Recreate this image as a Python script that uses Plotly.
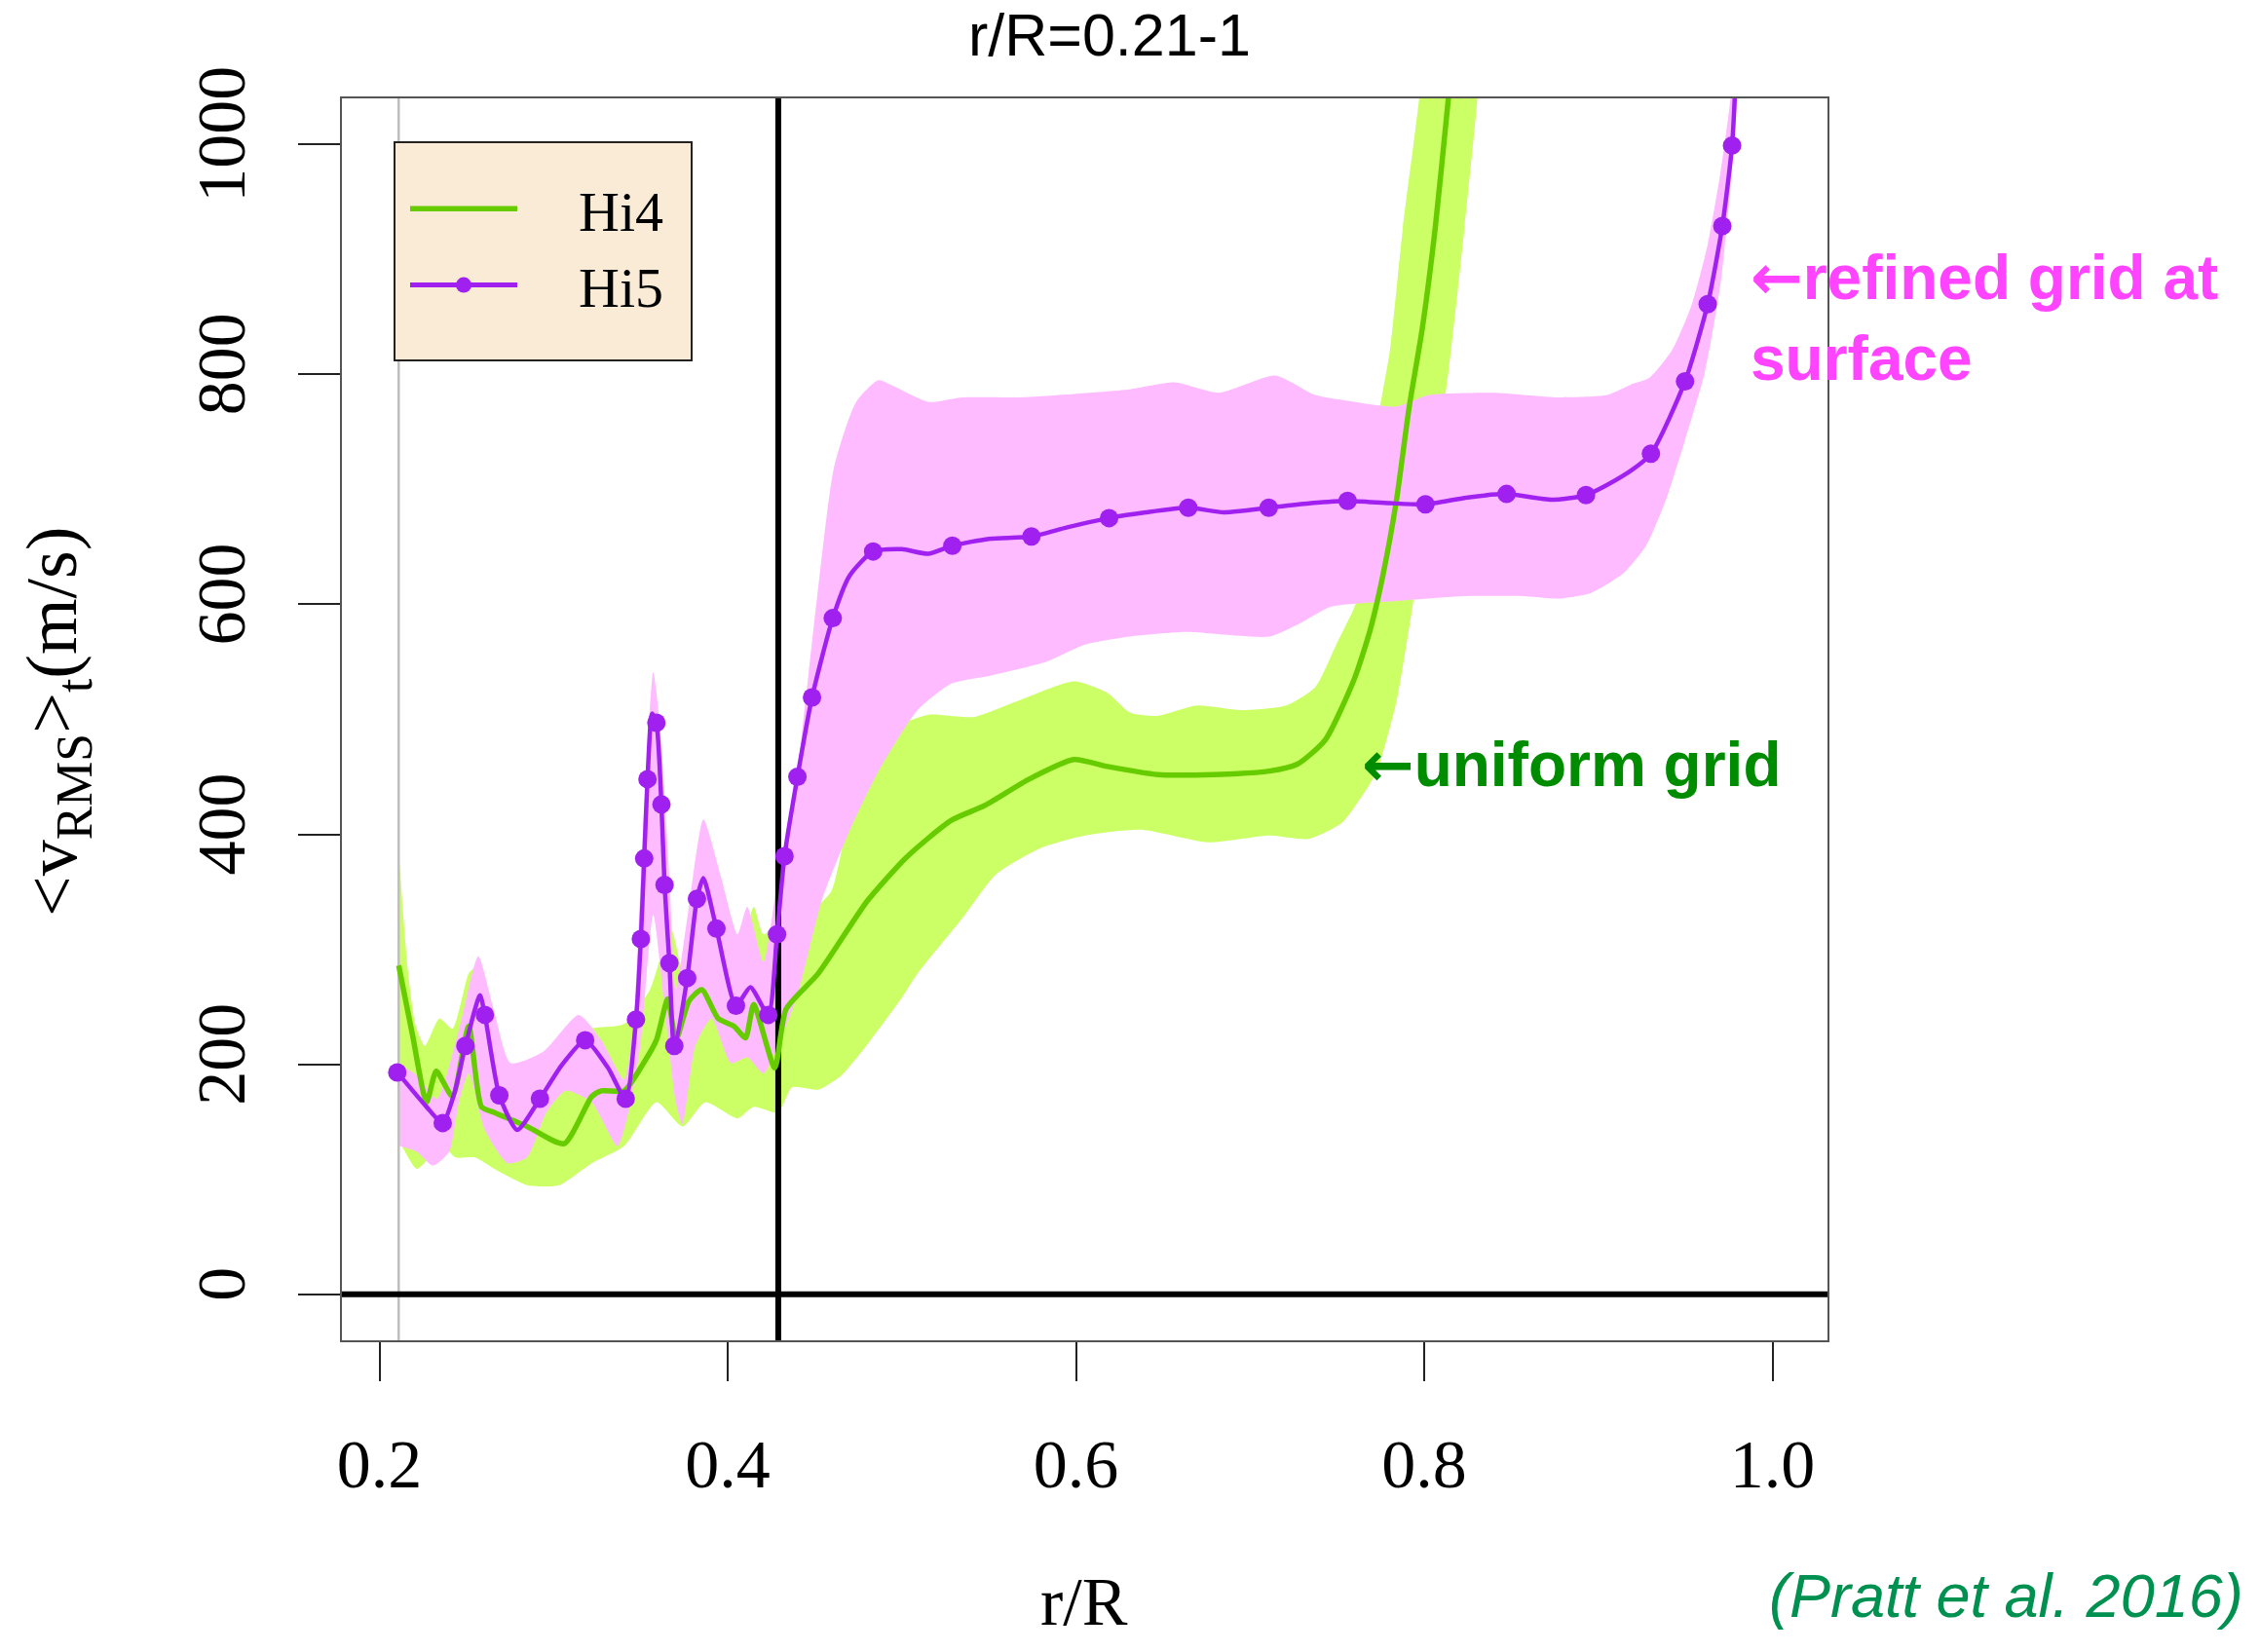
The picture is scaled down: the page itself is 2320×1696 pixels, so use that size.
import plotly.graph_objects as go

# ---------------- data ----------------
hi4_r = [0.211, 0.219, 0.227, 0.2326, 0.2419, 0.2512, 0.2586, 0.266, 0.2847, 0.306,
         0.3219, 0.3274, 0.3405, 0.3516, 0.359, 0.3656, 0.3702, 0.3777, 0.3851, 0.3944,
         0.4037, 0.4102, 0.4149, 0.427, 0.4335, 0.452, 0.4801, 0.5026, 0.5282, 0.5475,
         0.5731, 0.5988, 0.618, 0.6469, 0.679, 0.711, 0.7271, 0.7431, 0.7598, 0.769,
         0.7765, 0.784, 0.7914, 0.7989, 0.8063, 0.8138, 0.818]
hi4_v = [286, 225, 167, 194, 172, 233, 163, 158, 146, 131,
         172, 177, 177, 201, 221, 257, 221, 255, 265, 240,
         233, 223, 252, 197, 248, 279, 342, 380, 412, 425,
         448, 465, 459, 452, 452, 455, 461, 482, 535, 578,
         627, 690, 772, 840, 927, 1039, 1100]

hi4_up_r = [0.2115, 0.2158, 0.2205, 0.226, 0.2344, 0.2419, 0.2512, 0.2549, 0.2605, 0.2698,
            0.2884, 0.3033, 0.3219, 0.3405, 0.3553, 0.3674, 0.374, 0.3851, 0.3963, 0.4056,
            0.4149, 0.4205, 0.4288, 0.445, 0.4593, 0.4673, 0.4785, 0.4962, 0.5154, 0.5411,
            0.5667, 0.5988, 0.618, 0.6309, 0.6469, 0.6694, 0.695, 0.7207, 0.7374, 0.7495,
            0.7592, 0.7654, 0.7737, 0.7803, 0.7877, 0.797, 0.80]
hi4_up_v = [376, 289, 235, 216, 240, 231, 279, 284, 225, 201,
            197, 216, 231, 235, 265, 318, 284, 313, 284, 289,
            337, 313, 323, 330, 350, 400, 465, 493, 504, 502,
            516, 533, 523, 506, 503, 512, 508, 512, 528, 565,
            595, 620, 762, 821, 927, 1039, 1100]

hi4_lo_r = [0.2115, 0.2214, 0.2288, 0.2363, 0.2437, 0.2549, 0.266, 0.2847, 0.3033, 0.3219,
            0.3405, 0.359, 0.374, 0.387, 0.4056, 0.4149, 0.4288, 0.437, 0.452, 0.465,
            0.479, 0.50, 0.509, 0.5347, 0.5539, 0.5796, 0.6052, 0.6373, 0.6758, 0.7111,
            0.7335, 0.7527, 0.765, 0.7728, 0.784, 0.7933, 0.8026, 0.8138, 0.8231, 0.8305, 0.833]
hi4_lo_v = [133, 109, 119, 129, 119, 119, 109, 95, 95, 114,
            129, 167, 146, 167, 153, 163, 158, 180, 178, 190,
            215, 258, 279, 327, 365, 388, 399, 404, 393, 399,
            396, 410, 435, 455, 515, 598, 685, 801, 927, 1039, 1100]

hi5_r = [0.2102, 0.227, 0.2363, 0.243, 0.2493, 0.2577, 0.2605, 0.2688, 0.2791, 0.2921,
         0.305, 0.3181, 0.3312, 0.3414, 0.3473, 0.3501, 0.352, 0.3539, 0.3565, 0.359,
         0.3619, 0.3637, 0.3665, 0.3693, 0.3767, 0.3823, 0.386, 0.3935, 0.4047, 0.413,
         0.4233, 0.4283, 0.4326, 0.44, 0.4484, 0.4603, 0.47, 0.4835, 0.50, 0.515,
         0.529, 0.55, 0.5744, 0.595, 0.619, 0.64, 0.6645, 0.685, 0.7107, 0.735,
         0.756, 0.78, 0.8007, 0.825, 0.8473, 0.873, 0.8929, 0.9144, 0.9302, 0.9498,
         0.9628, 0.9712, 0.9768, 0.9795]
hi5_v = [193, 163, 149, 175, 216, 260, 243, 173, 143, 170,
         200, 221, 197, 170, 239, 309, 379, 448, 505, 497,
         426, 356, 288, 213, 275, 344, 362, 318, 251, 267,
         243, 313, 381, 450, 519, 588, 625, 646, 648, 644,
         651, 657, 659, 667, 675, 680, 684, 680, 684, 688,
         690, 688, 687, 693, 696, 691, 695, 712, 731, 794,
         861, 929, 999, 1080]

hi5_pts_r = [0.2102, 0.2363, 0.2493, 0.2605, 0.2688, 0.2921, 0.3181, 0.3414, 0.3473, 0.3501,
             0.352, 0.3539, 0.359, 0.3619, 0.3637, 0.3665, 0.3693, 0.3767, 0.3823, 0.3935,
             0.4047, 0.4233, 0.4283, 0.4326, 0.44, 0.4484, 0.4603, 0.4835, 0.529, 0.5744,
             0.619, 0.6645, 0.7107, 0.756, 0.8007, 0.8473, 0.8929, 0.9302, 0.9498, 0.9628,
             0.9712, 0.9768]
hi5_pts_v = [193, 149, 216, 243, 173, 170, 221, 170, 239, 309,
             379, 448, 497, 426, 356, 288, 216, 275, 344, 318,
             251, 243, 313, 381, 450, 519, 588, 646, 651, 659,
             675, 684, 684, 690, 687, 696, 695, 731, 794, 861,
             929, 999]

hi5_up_r = [0.2115, 0.222, 0.233, 0.2456, 0.2567, 0.266, 0.2753, 0.294, 0.3144, 0.3274,
            0.3405, 0.346, 0.3516, 0.3572, 0.3609, 0.3665, 0.3702, 0.3777, 0.386, 0.3963,
            0.4056, 0.4112, 0.4205, 0.4288, 0.4385, 0.4513, 0.461, 0.4737, 0.4866, 0.4962,
            0.5154, 0.5347, 0.5667, 0.5988, 0.6309, 0.6565, 0.6822, 0.7143, 0.7374, 0.756,
            0.784, 0.8026, 0.8399, 0.877, 0.905, 0.92, 0.9293, 0.9423, 0.9535, 0.9628,
            0.9702, 0.9758, 0.978]
hi5_up_v = [200, 190, 170, 230, 294, 245, 201, 211, 243, 221,
            187, 240, 410, 541, 497, 362, 265, 337, 413, 362,
            313, 337, 289, 362, 437, 606, 719, 776, 795, 789,
            776, 780, 780, 783, 787, 793, 784, 799, 782, 777,
            772, 782, 784, 780, 782, 792, 797, 821, 860, 913,
            976, 1039, 1100]

hi5_lo_r = [0.2115, 0.2214, 0.2307, 0.24, 0.2456, 0.2512, 0.2605, 0.2735, 0.2847, 0.2958,
            0.307, 0.3219, 0.3367, 0.3442, 0.3498, 0.3572, 0.3647, 0.3702, 0.374, 0.3814,
            0.3907, 0.4019, 0.4112, 0.4205, 0.4288, 0.44, 0.4545, 0.4705, 0.4866, 0.509,
            0.5282, 0.5507, 0.5828, 0.6052, 0.6309, 0.663, 0.7111, 0.7281, 0.7467, 0.784,
            0.8212, 0.8585, 0.877, 0.8958, 0.9144, 0.9274, 0.9386, 0.9498, 0.961, 0.9702,
            0.9758, 0.9796, 0.981]
hi5_lo_v = [129, 124, 112, 124, 167, 192, 143, 114, 119, 158,
            177, 167, 129, 167, 216, 330, 235, 167, 148, 216,
            240, 201, 206, 192, 216, 260, 345, 405, 455, 508,
            531, 538, 550, 565, 572, 576, 572, 583, 598, 603,
            607, 607, 605, 610, 627, 651, 690, 743, 801, 879,
            961, 1039, 1100]

x_ticks = [0.2, 0.4, 0.6, 0.8, 1.0]
x_tick_labels = ["0.2", "0.4", "0.6", "0.8", "1.0"]
y_ticks = [0, 200, 400, 600, 800, 1000]
y_tick_labels = ["0", "200", "400", "600", "800", "1000"]
x_range = [0.1784, 1.0316]
y_range = [-40, 1040]
inner_edge = 0.211      # grey line: inner boundary r/R = 0.21
conv_boundary = 0.429   # black line: convective boundary
zero_level = 0

# ---------------- styles ----------------
GREEN_BAND = "#CCFF66"
PINK_BAND = "#FFBBFF"
GREEN_LINE = "#66CC00"
PURPLE = "#A020F0"
SERIF = "Liberation Serif, Times New Roman, serif"
SANS = "Liberation Sans, Arial, sans-serif"
SMOOTH = 0.6
NB = "\u00a0"


def band(up_r, up_v, lo_r, lo_v, color):
    return go.Scatter(x=up_r + lo_r[::-1], y=up_v + lo_v[::-1], fill="toself",
                      fillcolor=color, line=dict(width=0, shape="spline", smoothing=SMOOTH),
                      mode="lines", hoverinfo="skip", showlegend=False)


fig = go.Figure()
fig.add_trace(band(hi4_up_r, hi4_up_v, hi4_lo_r, hi4_lo_v, GREEN_BAND))
fig.add_trace(band(hi5_up_r, hi5_up_v, hi5_lo_r, hi5_lo_v, PINK_BAND))

# reference lines
fig.add_trace(go.Scatter(x=[inner_edge, inner_edge], y=y_range, mode="lines",
                         line=dict(color="#BEBEBE", width=2.5), showlegend=False, hoverinfo="skip"))
fig.add_trace(go.Scatter(x=[conv_boundary, conv_boundary], y=y_range, mode="lines",
                         line=dict(color="black", width=6), showlegend=False, hoverinfo="skip"))
fig.add_trace(go.Scatter(x=x_range, y=[zero_level, zero_level], mode="lines",
                         line=dict(color="black", width=6), showlegend=False, hoverinfo="skip"))

# data lines
fig.add_trace(go.Scatter(x=hi4_r, y=hi4_v, mode="lines", name=NB * 4 + "Hi4" + NB * 2,
                         line=dict(color=GREEN_LINE, width=5.5, shape="spline", smoothing=SMOOTH)))
fig.add_trace(go.Scatter(x=hi5_r, y=hi5_v, mode="lines", showlegend=False,
                         line=dict(color=PURPLE, width=4.5, shape="spline", smoothing=SMOOTH)))
fig.add_trace(go.Scatter(x=hi5_pts_r, y=hi5_pts_v, mode="markers", showlegend=False,
                         marker=dict(color=PURPLE, size=19)))
fig.add_trace(go.Scatter(x=[None], y=[None], mode="lines+markers", name=NB * 4 + "Hi5" + NB * 2,
                         line=dict(color=PURPLE, width=5), marker=dict(color=PURPLE, size=19)))

L, R, T, B = 351, 444, 101, 320
W, H = 2320, 1696
pw, ph = W - L - R, H - T - B


def px(xp):
    return (xp - L) / pw


def py(yp):
    return 1 - (yp - T) / ph


# legend frame (box behind the legend entries)
fig.add_shape(type="rect", xref="paper", yref="paper",
              x0=px(405), x1=px(710), y0=py(370), y1=py(146),
              fillcolor="#FAEBD7", line=dict(color="#222222", width=2), layer="above")

fig.update_layout(
    width=W, height=H,
    margin=dict(l=L, r=R, t=T, b=B, pad=0),
    paper_bgcolor="white", plot_bgcolor="white",
    showlegend=True,
    legend=dict(x=px(416), y=py(170), xanchor="left", yanchor="top",
                bgcolor="rgba(0,0,0,0)", borderwidth=0,
                font=dict(family=SERIF, size=58, color="black"),
                itemwidth=110, tracegroupgap=0),
    xaxis=dict(range=x_range, tickvals=x_ticks, ticktext=x_tick_labels,
               ticks="outside", ticklen=40, tickwidth=2, tickcolor="#222222",
               showline=True, mirror=True, linecolor="#555555", linewidth=2,
               showgrid=False, zeroline=False,
               tickfont=dict(family=SERIF, size=70, color="black"),
               ticklabelstandoff=25),
    yaxis=dict(range=y_range, tickvals=y_ticks, ticktext=y_tick_labels,
               ticks="outside", ticklen=43, tickwidth=2, tickcolor="#222222",
               showline=True, mirror=True, linecolor="#555555", linewidth=2,
               showgrid=False, zeroline=False, tickangle=-90,
               tickfont=dict(family=SERIF, size=70, color="black"),
               ticklabelstandoff=27),
)

ARROW = '<span style="font-family:DejaVu Sans">\u2190</span>'
annots = [
    dict(text="r/R=0.21-1", x=px(1139), y=py(36), font=dict(family=SANS, size=61, color="black"),
         xanchor="center", yanchor="middle"),
    dict(text="r/R", x=px(1113), y=py(1644), font=dict(family=SERIF, size=70, color="black"),
         xanchor="center", yanchor="middle"),
    dict(text="&lt;v<sub>RMS</sub>&gt;<sub>t</sub>(m/s)", x=px(58), y=py(741), textangle=-90,
         font=dict(family=SERIF, size=74, color="black"), xanchor="center", yanchor="middle"),
    dict(text="<b>" + ARROW + "refined grid at<br>surface</b>", x=px(1795), y=py(326), align="left",
         font=dict(family=SANS, size=64, color="#FF44FF"), xanchor="left", yanchor="middle"),
    dict(text="<b>" + ARROW + "uniform grid</b>", x=px(1396), y=py(785),
         font=dict(family=SANS, size=64, color="#008C00"), xanchor="left", yanchor="middle"),
    dict(text="<i>(Pratt et al. 2016)</i>", x=px(1814), y=py(1638),
         font=dict(family=SANS, size=63, color="#00904F"), xanchor="left", yanchor="middle"),
]
for a in annots:
    fig.add_annotation(xref="paper", yref="paper", showarrow=False, **a)

fig.write_html("out.html")
